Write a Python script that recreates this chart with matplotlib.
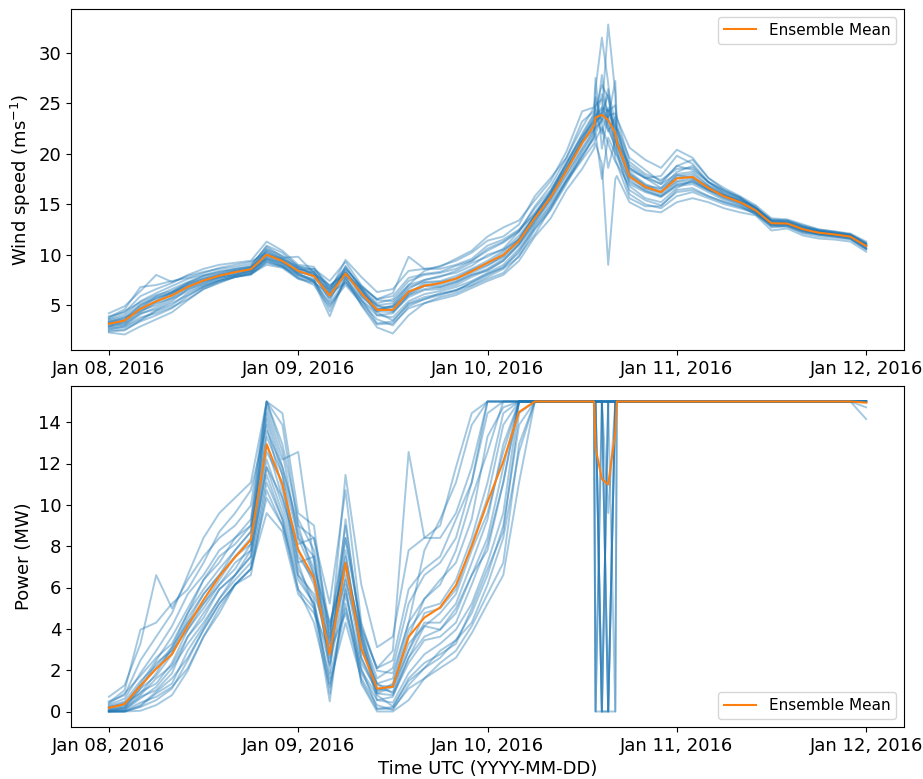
import numpy as np
import matplotlib
matplotlib.use("Agg")
import matplotlib.pyplot as plt
import matplotlib.dates as mdates

# Forecast valid times, hours after 2016-01-08 00:00 UTC
hours = [0, 2, 4, 6, 8, 10, 12, 14, 16, 18,
         20, 22, 24, 26, 28, 30, 32, 34, 36, 38, 40, 42, 44, 46,
         48, 50, 52, 54, 56, 58, 60,
         61.5, 61.7, 62.5, 63.3, 64.2, 64.4,
         66, 68, 70, 72, 74, 76, 78, 80,
         82, 84, 86, 88, 90, 92, 94, 96]

# Hub-height wind speed for each ensemble member (m/s)
wind_members = [
    [4.2, 4.9, 6.4, 8.0, 7.3, 7.9, 8.3, 8.6, 8.8, 9.1,
     10.6, 9.9, 8.9, 8.4, 6.8, 8.6, 6.9, 5.6, 5.9, 7.7, 8.1, 8.3, 8.9, 9.4,
     10.4, 11.2, 12.3, 14.2, 16.1, 18.6, 21.2,
     22.4, 23.0, 24.1, 22.8, 20.5, 20.0,
     17.2, 16.4, 15.8, 17.0, 17.2, 16.4, 15.6, 15.0,
     14.2, 13.0, 13.0, 12.6, 12.3, 12.1, 11.9, 11.0],
    [2.3, 2.1, 2.9, 3.6, 4.3, 5.5, 6.6, 7.3, 7.8, 8.1,
     9.4, 8.9, 7.7, 7.3, 5.2, 7.4, 5.1, 3.1, 3.2, 4.7, 5.2, 5.8, 6.2, 6.9,
     7.6, 8.2, 9.9, 12.0, 14.6, 17.3, 19.6,
     21.8, 26.5, 31.5, 27.0, 19.5, 19.0,
     16.8, 15.6, 15.2, 16.6, 17.4, 16.4, 15.9, 15.4,
     14.6, 13.4, 13.4, 12.8, 12.3, 12.1, 11.9, 10.9],
    [3.6, 4.1, 5.4, 6.2, 6.9, 7.6, 8.0, 8.4, 8.6, 8.9,
     10.8, 9.8, 8.6, 8.3, 5.4, 8.9, 6.6, 4.0, 4.2, 6.0, 6.9, 6.8, 7.2, 8.0,
     8.4, 9.4, 11.0, 13.2, 15.6, 18.4, 21.4,
     23.6, 24.0, 22.0, 24.4, 22.8, 22.0,
     18.4, 17.6, 16.6, 18.2, 18.8, 17.2, 16.2, 15.6,
     14.6, 13.3, 13.2, 12.7, 12.3, 12.1, 11.8, 10.8],
    [2.8, 3.0, 4.1, 4.8, 5.6, 6.4, 7.0, 7.5, 8.0, 8.3,
     9.6, 9.0, 8.1, 7.5, 4.4, 7.6, 5.8, 4.6, 4.9, 6.6, 7.5, 7.8, 8.4, 9.2,
     9.8, 10.6, 12.3, 14.8, 16.8, 19.6, 22.6,
     24.6, 25.6, 23.0, 18.6, 21.4, 21.2,
     18.9, 17.8, 17.0, 18.8, 18.4, 17.2, 16.4, 15.7,
     14.7, 13.5, 13.4, 12.9, 12.5, 12.3, 12.0, 11.2],
    [3.3, 3.6, 5.0, 5.9, 6.6, 7.3, 7.9, 8.3, 8.5, 8.8,
     10.9, 10.2, 8.8, 8.6, 7.4, 9.3, 7.0, 5.5, 5.4, 7.0, 7.5, 7.9, 8.2, 8.9,
     10.0, 10.5, 11.5, 13.9, 16.0, 19.0, 22.0,
     24.0, 24.5, 26.8, 25.6, 22.0, 21.5,
     18.0, 16.9, 16.2, 17.9, 17.6, 16.8, 15.8, 15.2,
     14.3, 13.0, 13.0, 12.4, 12.0, 11.9, 11.7, 10.7],
    [2.6, 2.9, 3.8, 4.2, 4.8, 5.6, 6.6, 7.2, 7.8, 8.1,
     9.0, 8.7, 7.6, 7.2, 6.2, 7.2, 5.4, 4.0, 3.8, 5.4, 6.1, 6.4, 6.8, 7.4,
     8.2, 9.0, 10.6, 13.0, 15.0, 17.4, 20.2,
     22.0, 22.4, 24.2, 32.8, 26.0, 20.5,
     17.0, 16.2, 15.7, 16.8, 17.0, 16.2, 15.4, 14.9,
     14.0, 12.8, 12.9, 12.3, 12.0, 11.9, 11.6, 10.6],
    [3.9, 4.3, 5.9, 6.6, 7.2, 8.0, 8.6, 9.0, 9.2, 9.4,
     11.3, 10.4, 9.0, 8.8, 6.4, 9.5, 7.8, 6.3, 6.6, 8.4, 8.6, 8.8, 9.6, 10.4,
     11.8, 12.7, 13.4, 15.4, 17.3, 20.2, 24.2,
     24.6, 27.5, 20.5, 23.8, 24.0, 23.5,
     20.6, 19.4, 18.6, 20.4, 19.6, 17.6, 16.6, 15.8,
     14.9, 13.6, 13.5, 13.0, 12.5, 12.3, 12.1, 11.3],
    [3.0, 3.2, 4.3, 5.2, 5.7, 6.6, 7.2, 7.7, 8.0, 8.3,
     9.7, 9.1, 8.2, 7.3, 3.9, 7.8, 5.0, 2.8, 2.2, 4.0, 5.2, 5.6, 6.0, 6.7,
     7.4, 8.0, 9.4, 11.8, 13.6, 16.4, 18.5,
     20.5, 21.0, 19.0, 9.0, 17.5, 17.8,
     15.2, 14.4, 14.2, 15.2, 15.6, 15.2, 14.6, 14.2,
     13.9, 12.4, 12.6, 11.9, 11.6, 11.5, 11.3, 10.3],
    [3.4, 3.7, 4.9, 5.6, 6.2, 7.1, 7.6, 8.0, 8.4, 8.7,
     10.0, 9.5, 8.6, 8.0, 6.6, 8.3, 6.4, 4.9, 4.8, 6.2, 7.0, 7.0, 7.4, 8.2,
     8.9, 9.9, 11.6, 13.8, 15.8, 18.4, 21.2,
     23.0, 23.2, 25.9, 24.0, 22.6, 22.3,
     18.2, 17.0, 16.4, 17.6, 17.8, 16.6, 15.9, 15.3,
     14.4, 13.2, 13.1, 12.5, 12.2, 12.0, 11.8, 10.9],
    [2.5, 2.6, 3.4, 4.0, 4.7, 5.9, 6.8, 7.4, 7.8, 8.0,
     9.3, 8.8, 7.9, 7.4, 5.0, 7.0, 5.2, 3.6, 3.0, 4.9, 5.6, 6.2, 6.5, 7.2,
     8.0, 8.8, 10.2, 12.8, 14.8, 17.4, 19.8,
     21.5, 22.0, 23.5, 22.4, 20.8, 20.2,
     16.0, 15.0, 14.6, 15.8, 16.2, 15.6, 15.0, 14.6,
     14.1, 12.7, 12.8, 12.1, 11.8, 11.7, 11.5, 10.5],
    [3.7, 4.4, 5.3, 6.0, 6.4, 7.2, 7.7, 8.1, 8.4, 8.7,
     10.1, 9.6, 8.7, 8.1, 7.0, 8.1, 6.7, 5.2, 5.6, 7.4, 8.0, 8.2, 8.6, 9.4,
     10.6, 11.3, 12.4, 14.6, 16.4, 19.0, 21.6,
     23.4, 23.8, 24.6, 24.2, 24.8, 23.6,
     19.2, 18.0, 17.4, 18.5, 18.6, 17.2, 16.0, 15.4,
     14.8, 13.1, 13.2, 12.6, 12.3, 12.1, 11.9, 11.0],
    [3.1, 3.3, 4.5, 5.0, 5.8, 6.8, 7.3, 7.8, 8.2, 8.4,
     9.6, 9.2, 8.4, 7.8, 6.0, 8.2, 6.2, 5.0, 4.4, 6.0, 6.6, 6.8, 7.3, 8.0,
     8.6, 9.6, 11.1, 13.5, 15.5, 18.0, 20.6,
     22.4, 22.8, 27.8, 23.0, 21.2, 20.8,
     17.6, 16.6, 16.0, 17.2, 17.4, 16.5, 15.8, 15.2,
     14.2, 13.0, 13.0, 12.4, 12.1, 11.9, 11.8, 10.8],
    [2.9, 3.1, 4.2, 4.6, 5.4, 6.6, 7.1, 7.7, 8.0, 8.4,
     9.9, 9.2, 8.3, 7.9, 6.3, 8.4, 6.0, 4.4, 4.3, 5.8, 6.5, 6.6, 7.0, 7.8,
     8.5, 9.4, 11.0, 13.3, 15.3, 17.8, 20.4,
     22.2, 22.6, 23.2, 24.6, 21.8, 21.4,
     17.4, 16.3, 15.8, 16.9, 17.2, 16.4, 15.6, 15.1,
     14.3, 13.1, 13.1, 12.5, 12.2, 12.0, 11.8, 10.9],
    [3.5, 3.9, 5.1, 5.7, 6.3, 7.0, 7.4, 7.8, 8.1, 8.5,
     10.5, 9.7, 9.8, 8.2, 6.7, 8.8, 6.8, 5.6, 6.2, 9.8, 8.6, 8.6, 9.0, 9.6,
     10.9, 11.5, 12.5, 14.0, 16.2, 19.2, 21.8,
     23.8, 24.4, 23.4, 26.4, 23.0, 22.4,
     18.6, 17.6, 17.0, 18.0, 18.2, 16.9, 16.1, 15.5,
     14.6, 13.3, 13.2, 12.7, 12.4, 12.2, 12.0, 11.1],
    [2.4, 2.5, 3.5, 4.4, 5.0, 6.2, 6.9, 7.5, 7.9, 8.2,
     9.5, 8.9, 8.0, 7.4, 5.7, 7.7, 5.5, 4.3, 3.5, 5.1, 5.6, 6.0, 6.5, 7.0,
     7.8, 8.6, 9.8, 12.5, 14.4, 17.0, 19.9,
     21.6, 22.0, 17.5, 21.6, 20.0, 19.8,
     16.4, 15.4, 14.9, 16.2, 16.4, 15.8, 15.2, 14.7,
     14.2, 12.9, 12.9, 12.3, 12.0, 11.8, 11.6, 10.6],
    [3.2, 3.5, 4.7, 5.3, 6.1, 7.0, 7.6, 8.0, 8.3, 8.6,
     10.4, 9.6, 8.8, 8.0, 5.8, 8.0, 6.0, 4.7, 4.5, 6.2, 7.2, 7.3, 7.7, 8.5,
     9.2, 10.2, 11.6, 13.9, 16.0, 18.6, 21.3,
     23.2, 23.6, 24.4, 23.6, 27.2, 22.8,
     18.6, 17.6, 17.8, 19.8, 19.0, 17.2, 16.3, 15.6,
     14.6, 13.4, 13.3, 12.8, 12.4, 12.2, 12.0, 11.1],
    [3.8, 4.6, 6.8, 7.0, 7.4, 7.7, 8.2, 8.7, 9.0, 9.3,
     10.2, 9.3, 8.5, 8.6, 6.9, 8.2, 6.6, 5.0, 5.2, 7.0, 8.4, 8.9, 9.4, 10.2,
     11.4, 11.8, 13.0, 15.8, 17.6, 19.6, 23.2,
     24.2, 24.8, 25.4, 22.2, 23.6, 22.6,
     19.6, 18.4, 17.2, 18.8, 19.4, 17.6, 16.4, 15.7,
     14.6, 13.4, 13.3, 12.8, 12.4, 12.2, 12.0, 11.1],
    [2.7, 2.8, 3.6, 4.5, 5.2, 6.0, 6.8, 7.4, 7.8, 8.1,
     9.2, 8.8, 7.7, 7.0, 4.8, 7.3, 5.6, 3.2, 3.4, 5.2, 5.8, 6.1, 6.4, 7.3,
     8.1, 8.7, 10.4, 12.6, 14.6, 17.2, 19.4,
     21.0, 21.4, 22.6, 21.0, 19.2, 19.0,
     15.6, 14.8, 14.8, 16.4, 16.6, 15.8, 15.2, 14.8,
     14.0, 12.9, 12.8, 12.2, 12.0, 11.8, 11.6, 10.6],
    [3.3, 3.8, 4.4, 5.4, 6.3, 7.2, 7.9, 8.2, 8.6, 8.8,
     10.3, 9.5, 8.2, 8.3, 6.1, 8.6, 6.8, 4.5, 5.0, 6.8, 7.3, 7.4, 7.9, 8.6,
     9.4, 10.4, 11.9, 13.9, 16.3, 18.9, 21.7,
     23.2, 23.4, 24.0, 25.8, 21.5, 21.0,
     18.0, 16.8, 16.6, 17.8, 18.0, 16.8, 15.9, 15.3,
     14.4, 13.2, 13.1, 12.5, 12.2, 12.1, 11.8, 10.9],
    [2.9, 3.4, 4.7, 5.8, 6.2, 6.8, 7.4, 7.9, 8.3, 8.5,
     9.8, 9.4, 8.0, 7.6, 6.5, 7.9, 6.5, 4.4, 4.8, 6.4, 6.9, 7.2, 7.6, 8.4,
     9.0, 9.8, 11.3, 13.6, 15.7, 18.3, 21.0,
     22.8, 23.2, 23.8, 23.6, 21.4, 21.0,
     17.8, 16.6, 16.2, 17.3, 17.6, 16.6, 15.8, 15.2,
     14.3, 13.1, 13.1, 12.4, 12.1, 12.0, 11.8, 10.9],
]

# Turbine power curve (cut-in ~3 m/s, rated 15 MW, cut-out 25 m/s)
curve_speed = [0.0, 2.8, 3.5, 4.0, 5.0, 6.0, 7.0, 8.0, 9.0, 10.0, 10.6, 25.0, 25.01, 40.0]
curve_power = [0.0, 0.0, 0.25, 0.55, 1.35, 2.6, 4.3, 6.6, 9.6, 13.3, 15.0, 15.0, 0.0, 0.0]

date_ticks = ["2016-01-08", "2016-01-09", "2016-01-10", "2016-01-11", "2016-01-12"]

start = np.datetime64("2016-01-08T00:00")
times = start + (np.array(hours) * 60).astype("timedelta64[m]")
times = times.astype("datetime64[ms]").astype(object)

wind = np.array(wind_members)
power = np.interp(wind, curve_speed, curve_power)
wind_mean = wind.mean(axis=0)
power_mean = power.mean(axis=0)

plt.rcParams["font.family"] = ["DejaVu Sans"]
fs = 13

fig = plt.figure(figsize=(9.23, 7.79), dpi=100)
ax1 = fig.add_axes([71 / 923, 1 - 350 / 779, (904 - 71) / 923, 341 / 779])
ax2 = fig.add_axes([71 / 923, 1 - 727 / 779, (904 - 71) / 923, 341 / 779])

for ax, members, mean, ylabel, loc in [
    (ax1, wind, wind_mean, "Wind speed (ms$^{-1}$)", "upper right"),
    (ax2, power, power_mean, "Power (MW)", "lower right"),
]:
    for row in members:
        ax.plot(times, row, color="C0", alpha=0.4, lw=1.4)
    ax.plot(times, mean, color="C1", lw=1.5, label="Ensemble Mean")
    ax.set_ylabel(ylabel, fontsize=fs)
    ax.legend(loc=loc, fontsize=11, handlelength=2.1)
    ticks = [np.datetime64(d).astype("datetime64[ms]").astype(object) for d in date_ticks]
    ax.set_xticks(ticks)
    ax.xaxis.set_major_formatter(mdates.DateFormatter("%b %d, %Y"))
    ax.tick_params(labelsize=fs)

ax2.set_xlabel("Time UTC (YYYY-MM-DD)", fontsize=fs)

fig.savefig("out.png", dpi=100)
